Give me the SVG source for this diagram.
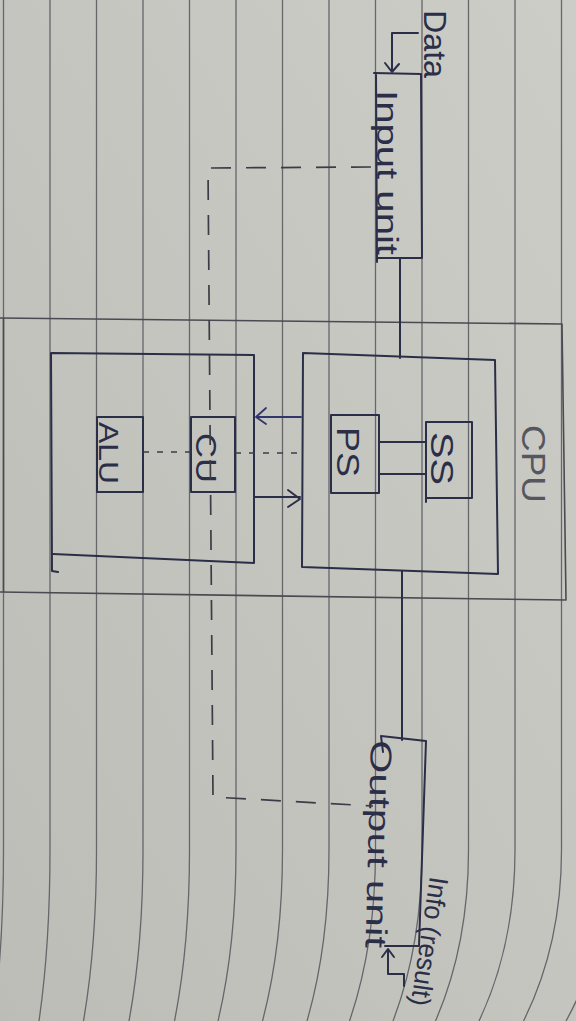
<svg xmlns="http://www.w3.org/2000/svg" width="576" height="1021" viewBox="0 0 576 1021">
<style>
.rule{fill:none;stroke:#66666b;stroke-width:1.3}
.pencil{fill:none;stroke:#4a4a52;stroke-width:1.6;stroke-linejoin:round}
.ink{fill:none;stroke:#2b2e47;stroke-width:2;stroke-linejoin:round;stroke-linecap:round}
.blue{fill:none;stroke:#32366e;stroke-width:1.8;stroke-linejoin:round;stroke-linecap:round}
.dash{fill:none;stroke:#3c3c46;stroke-width:1.7;stroke-dasharray:20 15}
.sdash{fill:none;stroke:#3c3c46;stroke-width:1.6;stroke-dasharray:6 8}
.hand{font-family:"Liberation Sans","DejaVu Sans",sans-serif;fill:#2b2e47}
.grey{fill:#56565e}
</style>
<defs>
<linearGradient id="pg" x1="1" y1="0" x2="0" y2="1">
<stop offset="0" stop-color="#cdcdc8"/>
<stop offset="1" stop-color="#bdbdb8"/>
</linearGradient>
</defs>
<rect width="576" height="1021" fill="url(#pg)"/>
<g id="ruled-lines" class="rule">
<path d="M3.5,0 V850 Q3.5,945 -6.5,1021"/>
<path d="M50,0 V850 Q50,945 39,1021"/>
<path d="M96.5,0 V850 Q96.5,945 83.5,1021"/>
<path d="M143,0 V850 Q143,945 129,1021"/>
<path d="M189.5,0 V850 Q189.5,945 174.5,1021"/>
<path d="M236,0 V850 Q236,945 218,1021"/>
<path d="M282.5,0 V850 Q282.5,945 262.5,1021"/>
<path d="M329,0 V850 Q329,945 307,1021"/>
<path d="M375.5,0 V850 Q375.5,945 349.5,1021"/>
<path d="M422,0 V850 Q422,945 393,1021"/>
<path d="M468.5,0 V850 Q468.5,945 435.5,1021"/>
<path d="M515,0 V850 Q515,945 479,1021"/>
<path d="M561.5,0 V850 Q561.5,945 523.5,1021"/>
<path d="M608,0 V850 Q608,945 566,1021"/>
</g>
<g id="cpu">
<path class="pencil" d="M0,318 L562,324 L566,600 L0,592"/>
<path class="pencil" d="M3.5,318 V592"/>
<text class="hand grey" font-size="33" textLength="78" lengthAdjust="spacingAndGlyphs" transform="translate(522,425) rotate(90)">CPU</text>
</g>
<g id="memory">
<path class="ink" d="M303,353 L495,360 L498,574 L302,567 Z"/>
</g>
<g id="ps">
<path class="ink" d="M331,415 H379 V493 H331 Z"/>
<text class="hand" font-size="32" textLength="50" lengthAdjust="spacingAndGlyphs" transform="translate(337,427) rotate(90)">PS</text>
</g>
<g id="ss">
<path class="ink" d="M426,422 H472 V498 H426 Z M426,498 V502"/>
<text class="hand" font-size="32" textLength="53" lengthAdjust="spacingAndGlyphs" transform="translate(431,432) rotate(90)">SS</text>
</g>
<g id="processor">
<path class="ink" d="M51,353 L254,355 L254,563 L53,554 M51,353 L52,571 L58,572"/>
</g>
<g id="alu">
<path class="ink" d="M97,417 H143 V492 H97 Z"/>
<text class="hand" font-size="28" textLength="62" lengthAdjust="spacingAndGlyphs" transform="translate(99,422) rotate(90)">ALU</text>
</g>
<g id="cu">
<path class="ink" d="M191,417 H235 V492 H191 Z"/>
<text class="hand" font-size="30" textLength="50" lengthAdjust="spacingAndGlyphs" transform="translate(196,433) rotate(90)">CU</text>
</g>
<g id="input-unit">
<path class="ink" d="M374,73 L421,74 L422,258 L377,258 M376,73 L377,262"/>
<text class="hand" font-size="30" textLength="165" lengthAdjust="spacingAndGlyphs" transform="translate(377,90) rotate(90)">Input unit</text>
</g>
<g id="output-unit">
<path class="ink" d="M383,752 L381,736 L426,741 L419,946 L385,946"/>
<text class="hand" font-size="30" textLength="208" lengthAdjust="spacingAndGlyphs" transform="translate(371,740) rotate(91.5)">Output unit</text>
</g>
<g id="data-label">
<text class="hand" font-size="32" textLength="68" lengthAdjust="spacingAndGlyphs" transform="translate(424,10) rotate(90)">Data</text>
</g>
<g id="info-label">
<text class="hand" font-size="27" textLength="130" lengthAdjust="spacingAndGlyphs" transform="translate(430,876) rotate(98.5)">Info (result)</text>
</g>
<g id="connectors">
<path class="ink" d="M418,33 H392 V71 M385,63 L392,72 L399,64"/>
<path class="ink" d="M400,258 V358"/>
<path class="ink" d="M402,571 V740"/>
<path class="ink" d="M379,442 H426 M379,474 H426"/>
<path class="blue" d="M301,417 H256 M266,408 L256,417 L266,424"/>
<path class="ink" d="M255,497 H300 M288,490 L300,499 L288,507"/>
<path class="sdash" d="M143,452 H191"/>
<path class="sdash" d="M235,453 H301"/>
<path class="dash" d="M371,167 L208,168 L213,797 L373,806"/>
<path class="ink" d="M404,986 V974 H388 V950 M382,957 L388,949 L394,957"/>
</g>
</svg>
